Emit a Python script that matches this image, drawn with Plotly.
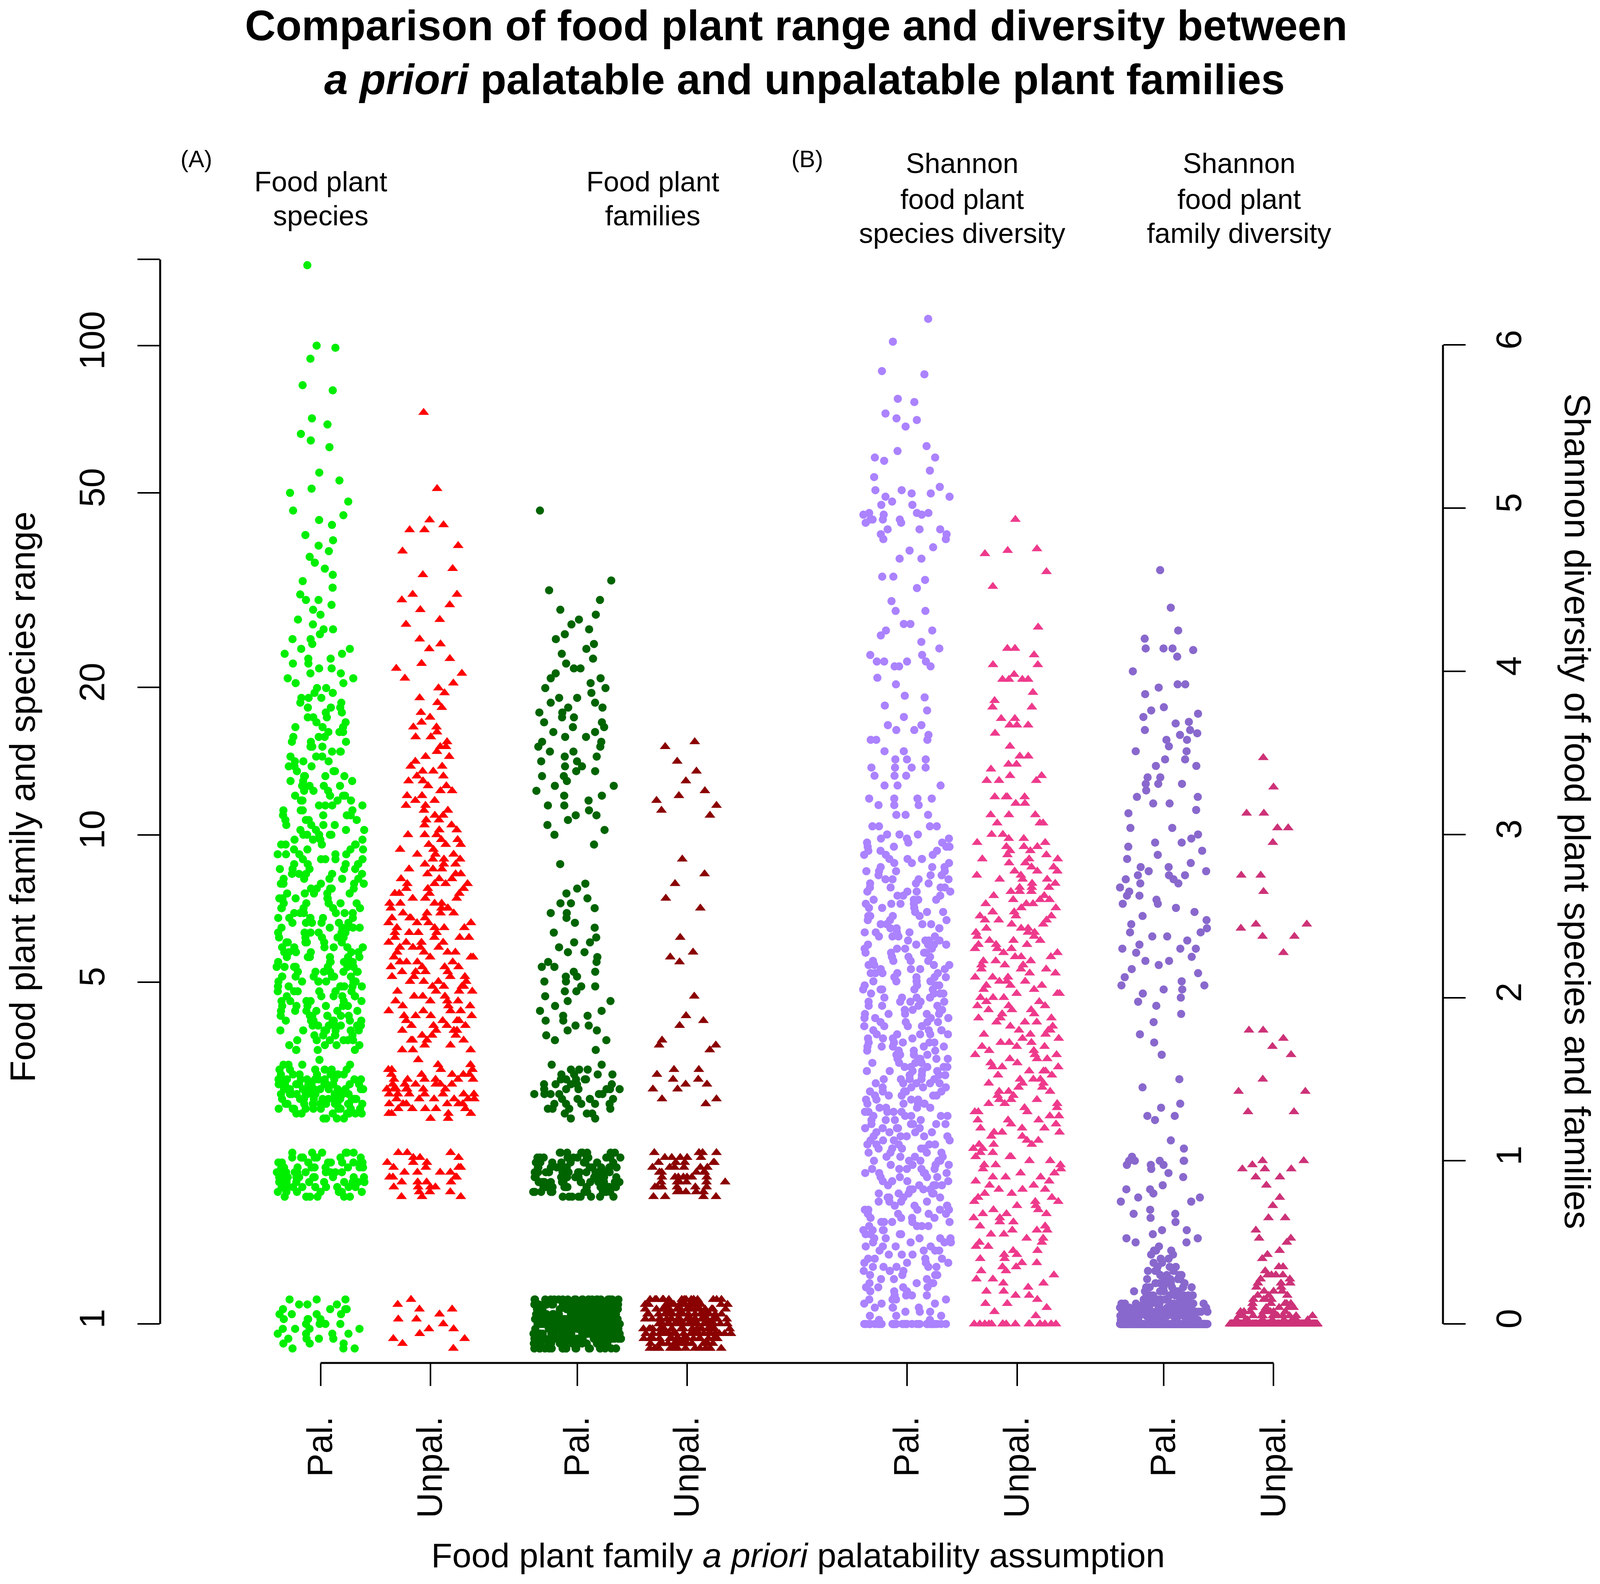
import numpy as np
import plotly.graph_objects as go

FONT = "Liberation Sans, Arial, Helvetica, sans-serif"

group_labels = ["Pal.", "Unpal.", "Pal.", "Unpal.", "Pal.", "Unpal.", "Pal.", "Unpal."]

range_grid = [
    0.871, 0.891, 0.912, 0.933, 0.955, 0.977, 1.0, 1.023, 1.047, 1.072,
    1.096, 1.122, 1.148, 1.175, 1.202, 1.230, 1.259, 1.288, 1.318, 1.349,
    1.380, 1.413, 1.445, 1.479, 1.514, 1.549, 1.585, 1.622, 1.660, 1.698,
    1.738, 1.778, 1.820, 1.862, 1.905, 1.950, 1.995, 2.042, 2.089, 2.138,
    2.188, 2.239, 2.291, 2.344, 2.399, 2.455, 2.512, 2.570, 2.630, 2.692,
    2.754, 2.818, 2.884, 2.951, 3.020, 3.090, 3.162, 3.236, 3.311, 3.388,
    3.467, 3.548, 3.631, 3.715, 3.802, 3.890, 3.981, 4.074, 4.169, 4.266,
    4.365, 4.467, 4.571, 4.677, 4.786, 4.898, 5.012, 5.129, 5.248, 5.370,
    5.495, 5.623, 5.754, 5.888, 6.026, 6.166, 6.310, 6.457, 6.607, 6.761,
    6.918, 7.079, 7.244, 7.413, 7.586, 7.762, 7.943, 8.128, 8.318, 8.511,
    8.710, 8.913, 9.120, 9.333, 9.550, 9.772, 10.00, 10.23, 10.47, 10.72,
    10.96, 11.22, 11.48, 11.75, 12.02, 12.30, 12.59, 12.88, 13.18, 13.49,
    13.80, 14.13, 14.45, 14.79, 15.14, 15.49, 15.85, 16.22, 16.60, 16.98,
    17.38, 17.78, 18.20, 18.62, 19.05, 19.50, 19.95, 20.42, 20.89, 21.38,
    21.88, 22.39, 22.91, 23.44, 23.99, 24.55, 25.12, 25.70, 26.30, 26.92,
    27.54, 28.18, 28.84, 29.51, 30.20,
]

pal_species_n = [
    0, 3, 3, 4, 4, 4, 4, 4, 4, 4,
    3, 3, 0, 0, 0, 0, 0, 0, 0, 0,
    0, 0, 0, 0, 0, 0, 0, 0, 0, 0,
    0, 0, 7, 8, 9, 9, 10, 10, 9, 9,
    8, 6, 0, 0, 0, 0, 0, 0, 4, 7,
    10, 11, 12, 12, 12, 12, 11, 9, 6, 4,
    1, 0, 4, 4, 6, 6, 7, 7, 7, 7,
    6, 6, 6, 6, 7, 7, 7, 7, 7, 7,
    7, 6, 6, 6, 6, 6, 6, 6, 6, 6,
    6, 5, 6, 5, 5, 5, 5, 5, 5, 5,
    5, 5, 5, 4, 5, 4, 5, 4, 4, 4,
    4, 4, 4, 4, 4, 3, 4, 3, 4, 3,
    3, 3, 3, 3, 3, 3, 3, 3, 3, 2,
    3, 2, 3, 2, 3, 2, 2, 2, 2, 2,
    2, 2, 2, 2, 2, 1, 2, 1, 2, 1,
    1, 1, 1, 1, 2,
]
pal_species_hi = [146, 100, 99, 94, 83, 81, 71, 69, 66, 64, 62, 55, 53, 51, 50, 48,
                  46, 45, 44, 43, 41, 40, 39, 38, 37, 36, 35, 34, 33, 32, 31]

unpal_species_n = [
    0, 1, 1, 2, 1, 2, 1, 2, 1, 2,
    1, 1, 0, 0, 0, 0, 0, 0, 0, 0,
    0, 0, 0, 0, 0, 0, 0, 0, 0, 0,
    0, 0, 3, 3, 4, 4, 4, 4, 4, 3,
    3, 3, 0, 0, 0, 0, 0, 0, 2, 4,
    5, 6, 6, 7, 7, 6, 6, 5, 4, 2,
    1, 0, 3, 2, 4, 3, 4, 4, 4, 4,
    4, 3, 4, 3, 4, 4, 4, 4, 4, 4,
    4, 4, 4, 4, 4, 4, 4, 4, 4, 4,
    4, 4, 4, 3, 4, 3, 4, 3, 3, 3,
    3, 3, 3, 2, 3, 2, 3, 2, 2, 2,
    2, 2, 2, 2, 2, 2, 2, 2, 2, 2,
    2, 1, 2, 1, 2, 1, 2, 1, 2, 1,
    1, 1, 1, 1, 1, 1, 1, 1, 1, 1,
    1, 1, 1, 0, 1, 1, 1, 0, 0, 1,
    1, 0, 1, 1, 1,
]
unpal_species_hi = [73, 51, 44, 43, 42, 42, 39, 38, 35, 34, 31, 31]

pal_family_n = [
    0, 20, 26, 30, 34, 36, 38, 36, 34, 30,
    26, 25, 0, 0, 0, 0, 0, 0, 0, 0,
    0, 0, 0, 0, 0, 0, 0, 0, 0, 0,
    0, 0, 8, 11, 13, 14, 14, 14, 14, 13,
    11, 8, 0, 0, 0, 0, 0, 0, 2, 3,
    4, 5, 5, 6, 6, 5, 5, 4, 3, 2,
    0, 0, 1, 0, 2, 1, 2, 2, 2, 2,
    2, 1, 2, 1, 2, 2, 2, 2, 2, 2,
    2, 1, 2, 1, 2, 1, 1, 1, 1, 1,
    2, 1, 2, 1, 1, 1, 1, 0, 0, 0,
    1, 0, 0, 0, 1, 0, 1, 1, 1, 1,
    2, 1, 2, 1, 2, 1, 2, 1, 2, 2,
    2, 2, 2, 2, 2, 2, 2, 2, 2, 2,
    2, 2, 2, 2, 2, 1, 2, 1, 2, 1,
    2, 1, 1, 1, 1, 1, 1, 1, 1, 1,
    1, 1, 1, 0, 1,
]
pal_family_hi = [31.6, 33.1, 46.0]

unpal_family_n = [
    0, 15, 18, 21, 24, 26, 28, 26, 24, 21,
    19, 18, 0, 0, 0, 0, 0, 0, 0, 0,
    0, 0, 0, 0, 0, 0, 0, 0, 0, 0,
    0, 0, 4, 5, 6, 6, 7, 6, 6, 6,
    5, 4, 0, 0, 0, 0, 0, 0, 0, 0,
    0, 1, 2, 0, 2, 2, 2, 1, 2, 0,
    0, 0, 1, 2, 1, 0, 0, 1, 1, 1,
    0, 0, 0, 1, 0, 0, 0, 0, 0, 0,
    1, 1, 1, 0, 0, 1, 0, 0, 0, 0,
    0, 1, 0, 1, 0, 0, 1, 0, 1, 0,
    0, 1, 0, 0, 0, 0, 0, 0, 0, 0,
    1, 1, 1, 1, 1, 1, 0, 1, 0, 1,
    0, 1, 0, 0, 1, 1, 0, 0, 0, 0,
    0, 0, 0, 0, 0, 0, 0, 0, 0, 0,
    0, 0, 0, 0, 0, 0, 0, 0, 0, 0,
    0, 0, 0, 0, 0,
]
unpal_family_hi = []

# Shannon diversity (right axis): 0-3 as counts per value, above 3 as single points
shannon_grid = [
    0.0, 0.025, 0.05, 0.075, 0.1, 0.125, 0.15, 0.175, 0.2, 0.225,
    0.25, 0.275, 0.3, 0.325, 0.35, 0.375, 0.4, 0.425, 0.45, 0.475,
    0.5, 0.525, 0.55, 0.575, 0.6, 0.625, 0.65, 0.675, 0.7, 0.725,
    0.75, 0.775, 0.8, 0.825, 0.85, 0.875, 0.9, 0.925, 0.95, 0.975,
    1.0, 1.025, 1.05, 1.075, 1.1, 1.125, 1.15, 1.175, 1.2, 1.225,
    1.25, 1.275, 1.3, 1.325, 1.35, 1.375, 1.4, 1.425, 1.45, 1.475,
    1.5, 1.525, 1.55, 1.575, 1.6, 1.625, 1.65, 1.675, 1.7, 1.725,
    1.75, 1.775, 1.8, 1.825, 1.85, 1.875, 1.9, 1.925, 1.95, 1.975,
    2.0, 2.025, 2.05, 2.075, 2.1, 2.125, 2.15, 2.175, 2.2, 2.225,
    2.25, 2.275, 2.3, 2.325, 2.35, 2.375, 2.4, 2.425, 2.45, 2.475,
    2.5, 2.525, 2.55, 2.575, 2.6, 2.625, 2.65, 2.675, 2.7, 2.725,
    2.75, 2.775, 2.8, 2.825, 2.85, 2.875, 2.9, 2.925, 2.95, 2.975,
    3.0,
]

sh_pal_species_n = [
    40, 2, 3, 3, 4, 3, 4, 4, 3, 4,
    4, 3, 4, 4, 5, 4, 4, 3, 4, 4,
    4, 5, 4, 4, 4, 5, 4, 4, 5, 4,
    4, 4, 5, 4, 5, 4, 4, 5, 5, 4,
    5, 4, 4, 5, 5, 4, 5, 4, 5, 5,
    4, 5, 5, 4, 5, 4, 5, 5, 4, 5,
    5, 4, 5, 5, 4, 5, 4, 4, 5, 5,
    4, 5, 4, 5, 4, 4, 5, 4, 4, 5,
    4, 4, 5, 4, 4, 4, 5, 4, 4, 4,
    4, 4, 4, 5, 4, 4, 4, 4, 4, 3,
    4, 4, 3, 4, 4, 3, 4, 4, 3, 4,
    3, 4, 3, 3, 4, 3, 3, 4, 3, 3,
    3,
]
sh_pal_species_hi = [
    6.16, 6.02, 5.84, 5.82, 5.67, 5.65, 5.58, 5.55, 5.54, 5.50, 5.38, 5.35,
    5.31, 5.31, 5.29, 5.23, 5.19, 5.13, 5.11, 5.11, 5.09, 5.09, 5.07, 5.07,
    5.04, 5.02, 5.02, 4.97, 4.97, 4.97, 4.96, 4.96, 4.96, 4.93, 4.93, 4.93,
    4.93, 4.91, 4.91, 4.87, 4.87, 4.87, 4.84, 4.84, 4.81, 4.81, 4.76, 4.74,
    4.69, 4.69, 4.58, 4.58, 4.56, 4.51, 4.43, 4.37, 4.37, 4.29, 4.29, 4.25,
    4.25, 4.22, 4.18, 4.14, 4.10, 4.10, 4.06, 4.06, 4.06, 4.06, 4.03, 4.03,
    4.03, 3.96, 3.92, 3.85, 3.84, 3.79, 3.76, 3.72, 3.67, 3.67, 3.64, 3.64,
    3.61, 3.58, 3.58, 3.58, 3.51, 3.51, 3.46, 3.46, 3.46, 3.41, 3.41, 3.41,
    3.41, 3.36, 3.36, 3.36, 3.30, 3.30, 3.30, 3.22, 3.22, 3.22, 3.22, 3.18,
    3.18, 3.18, 3.12, 3.12, 3.12, 3.05, 3.05, 3.05, 3.05,
]

sh_unpal_species_n = [
    16, 0, 1, 1, 1, 2, 1, 2, 2, 1,
    2, 2, 1, 2, 2, 2, 2, 2, 2, 2,
    2, 2, 2, 3, 2, 2, 2, 3, 2, 2,
    3, 2, 2, 3, 2, 2, 3, 2, 2, 3,
    2, 3, 2, 2, 3, 2, 2, 3, 3, 2,
    3, 2, 3, 2, 3, 3, 2, 3, 2, 3,
    3, 2, 3, 3, 2, 3, 3, 2, 3, 3,
    2, 3, 3, 2, 3, 3, 2, 3, 3, 2,
    3, 3, 2, 3, 3, 3, 2, 3, 3, 3,
    3, 2, 3, 3, 3, 2, 3, 3, 2, 3,
    3, 3, 2, 3, 3, 2, 3, 3, 2, 3,
    2, 3, 2, 2, 3, 2, 2, 3, 2, 2,
    2,
]
sh_unpal_species_hi = [
    4.93, 4.75, 4.74, 4.72, 4.61, 4.52, 4.27, 4.14, 4.14, 4.10, 4.04, 4.04,
    3.98, 3.95, 3.95, 3.95, 3.95, 3.87, 3.82, 3.78, 3.78, 3.71, 3.71, 3.67,
    3.67, 3.67, 3.62, 3.54, 3.48, 3.48, 3.43, 3.43, 3.40, 3.36, 3.36, 3.33,
    3.33, 3.33, 3.23, 3.23, 3.23, 3.23, 3.19, 3.19, 3.12, 3.12, 3.12, 3.07,
    3.07, 3.07,
]

sh_pal_family_n = [
    300, 20, 30, 28, 22, 16, 12, 9, 7, 6,
    5, 5, 4, 4, 3, 2, 2, 2, 3, 1,
    2, 2, 1, 2, 0, 1, 1, 2, 1, 0,
    2, 2, 1, 2, 1, 0, 1, 1, 1, 3,
    5, 1, 0, 1, 0, 1, 0, 0, 0, 0,
    1, 2, 0, 1, 1, 0, 0, 0, 1, 0,
    1, 0, 0, 0, 0, 0, 1, 0, 0, 1,
    0, 1, 0, 0, 1, 0, 1, 0, 1, 1,
    1, 1, 2, 2, 1, 1, 1, 1, 1, 2,
    1, 1, 3, 1, 1, 2, 2, 1, 1, 1,
    1, 1, 1, 2, 1, 2, 1, 1, 2, 2,
    3, 2, 2, 1, 1, 1, 1, 1, 2, 1,
    1,
]
sh_pal_family_hi = [
    4.62, 4.39, 4.25, 4.20, 4.14, 4.14, 4.14, 4.13, 4.09, 4.00, 3.92, 3.92,
    3.90, 3.86, 3.78, 3.76, 3.74, 3.72, 3.69, 3.68, 3.64, 3.64, 3.62, 3.61,
    3.58, 3.58, 3.54, 3.51, 3.51, 3.46, 3.46, 3.42, 3.42, 3.35, 3.35, 3.31,
    3.31, 3.31, 3.27, 3.23, 3.23, 3.19, 3.19, 3.15, 3.13, 3.04, 3.04,
]

sh_unpal_family_n = [
    240, 10, 12, 8, 6, 5, 4, 3, 3, 2,
    3, 2, 4, 1, 2, 0, 1, 1, 1, 0,
    1, 2, 0, 1, 0, 0, 2, 0, 0, 1,
    0, 1, 0, 0, 1, 0, 2, 0, 3, 1,
    2, 0, 0, 0, 0, 0, 0, 0, 0, 0,
    0, 0, 2, 0, 0, 0, 0, 2, 0, 0,
    1, 0, 0, 0, 0, 0, 1, 0, 1, 0,
    1, 0, 2, 0, 0, 0, 0, 0, 0, 0,
    0, 0, 0, 0, 0, 0, 0, 0, 0, 0,
    0, 1, 0, 0, 0, 2, 0, 1, 2, 0,
    0, 0, 0, 0, 0, 0, 1, 0, 0, 0,
    2, 0, 0, 0, 0, 0, 0, 0, 1, 0,
    0,
]
sh_unpal_family_hi = [3.47, 3.29, 3.13, 3.13, 3.04, 3.04]

# the browser shows a 4096 px wide page, so the x direction is squeezed from the 4299 px original
W, H = 4096, 4056
ML, MR, MT, MB = 410, 402, 600, 566
positions = [0, 3, 7, 10, 16, 19, 23, 26]
REF_L, REF_PW = 430, 3447   # plot left edge and width in the 4299 px original


def px_x(px):
    return (px - REF_L) / REF_PW


def px_y(py):
    return (H - MB - py) / (H - MT - MB)


def add_strip(fig, values, pos, color, symbol, size, yaxis, breaks):
    """Jittered strip of points: one invisible box per value band, plotly does the jitter."""
    values = np.sort(np.asarray(values, dtype=float))
    edges = [-np.inf] + list(breaks) + [np.inf]
    for lo, hi in zip(edges[:-1], edges[1:]):
        seg = values[(values >= lo) & (values < hi)]
        if seg.size == 0:
            continue
        fig.add_trace(go.Box(
            y=seg, x0=pos, width=2.4, yaxis=yaxis,
            boxpoints="all", jitter=1, pointpos=0,
            fillcolor="rgba(0,0,0,0)",
            line=dict(width=0, color="rgba(0,0,0,0)"),
            whiskerwidth=0,
            marker=dict(color=color, symbol=symbol, size=size, opacity=1,
                        line=dict(width=0)),
            hoverinfo="skip", showlegend=False,
        ))


def main():
    fig = go.Figure()

    circ, tri = 21, 24
    add_strip(fig, np.concatenate([np.repeat(range_grid, pal_species_n), pal_species_hi]),
              positions[0], "#00EE00", "circle", circ, "y", [20, 45])
    add_strip(fig, np.concatenate([np.repeat(range_grid, unpal_species_n), unpal_species_hi]),
              positions[1], "#FF0000", "triangle-up", tri, "y", [20, 35])
    add_strip(fig, np.concatenate([np.repeat(range_grid, pal_family_n), pal_family_hi]),
              positions[2], "#006400", "circle", circ, "y", [3.5, 9, 30])
    add_strip(fig, np.concatenate([np.repeat(range_grid, unpal_family_n), unpal_family_hi]),
              positions[3], "#8B0000", "triangle-up", tri, "y", [1.5, 2.5, 3.5, 10])

    add_strip(fig, np.concatenate([np.repeat(shannon_grid, sh_pal_species_n), sh_pal_species_hi]),
              positions[4], "#AB82FF", "circle", circ, "y2", [0.01, 3.02, 5.2])
    add_strip(fig, np.concatenate([np.repeat(shannon_grid, sh_unpal_species_n), sh_unpal_species_hi]),
              positions[5], "#EE3A8C", "triangle-up", tri, "y2", [0.01, 3.02, 4.2])
    add_strip(fig, np.concatenate([np.repeat(shannon_grid, sh_pal_family_n), sh_pal_family_hi]),
              positions[6], "#8968CD", "circle", circ, "y2", [0.01, 0.5])
    add_strip(fig, np.concatenate([np.repeat(shannon_grid, sh_unpal_family_n), sh_unpal_family_hi]),
              positions[7], "#CD3278", "triangle-up", tri, "y2", [0.01, 0.5, 1.1])

    tick_common = dict(ticks="outside", tickwidth=4, tickcolor="black",
                       showgrid=False, zeroline=False, showline=False,
                       tickfont=dict(size=90, color="black"))

    fig.update_layout(
        width=W, height=H,
        margin=dict(l=ML, r=MR, t=MT, b=MB),
        paper_bgcolor="white", plot_bgcolor="white",
        showlegend=False,
        font=dict(family=FONT, size=86, color="black"),
        xaxis=dict(range=[-4.376, 30.62], tickvals=positions, ticktext=group_labels,
                   tickangle=-90, ticklen=58, ticklabelstandoff=42, **tick_common),
        yaxis=dict(type="log", range=[-0.0798, 2.2275],
                   tickvals=[1, 5, 10, 20, 50, 100, 150],
                   ticktext=["1", "5", "10", "20", "50", "100", ""],
                   tickangle=-90, ticklen=57, ticklabelstandoff=49, **tick_common),
        yaxis2=dict(overlaying="y", side="right", anchor="x", range=[-0.239, 6.678],
                    tickvals=[0, 1, 2, 3, 4, 5, 6], tickangle=-90, ticklen=57,
                    ticklabelstandoff=34, **tick_common),
    )

    # axis lines only span the tick range, as in the original
    line = dict(color="black", width=5)
    fig.add_shape(type="line", xref="paper", yref="y", x0=0, x1=0, y0=1, y1=150, line=line)
    fig.add_shape(type="line", xref="paper", yref="y2", x0=1, x1=1, y0=0, y1=6, line=line)
    fig.add_shape(type="line", xref="x", yref="paper", x0=positions[0], x1=positions[-1],
                  y0=0, y1=0, line=line)

    notes = [
        ("<b>Comparison of food plant range and diversity between</b>", "paper", px_x(2139), 65, 109),
        ("<b><i>a priori</i> palatable and unpalatable plant families</b>", "paper", px_x(2161), 203, 109),
        ("(A)", "x", -3.39, 407, 61),
        ("(B)", "x", 13.28, 407, 61),
        ("Food plant", "x", 0, 465, 72),
        ("species", "x", 0, 552, 72),
        ("Food plant", "x", 9.06, 465, 72),
        ("families", "x", 9.06, 552, 72),
        ("Shannon", "x", 17.5, 418, 72),
        ("food plant", "x", 17.5, 510, 72),
        ("species diversity", "x", 17.5, 597, 72),
        ("Shannon", "x", 25.06, 418, 72),
        ("food plant", "x", 25.06, 510, 72),
        ("family diversity", "x", 25.06, 597, 72),
        ("Food plant family <i>a priori</i> palatability assumption", "paper", px_x(2144), 3982, 88),
    ]
    for text, xref, x, py, size in notes:
        fig.add_annotation(text=text, xref=xref, yref="paper", x=x, y=px_y(py),
                           xanchor="center", yanchor="middle", showarrow=False,
                           font=dict(size=size, family=FONT, color="black"))

    # rotated axis titles run along the (unsqueezed) vertical direction
    fig.add_annotation(text="Food plant family and species range", xref="paper", yref="paper",
                       x=px_x(60), y=px_y(2040), textangle=-90, showarrow=False,
                       xanchor="center", yanchor="middle", font=dict(size=91, family=FONT))
    fig.add_annotation(text="Shannon diversity of food plant species and families",
                       xref="paper", yref="paper", x=px_x(4238), y=px_y(2077), textangle=90,
                       showarrow=False, xanchor="center", yanchor="middle",
                       font=dict(size=93, family=FONT))

    fig.write_html("out.html", config={"displayModeBar": False},
                   post_script="document.body.style.margin = '0';")


if __name__ == "__main__":
    main()
